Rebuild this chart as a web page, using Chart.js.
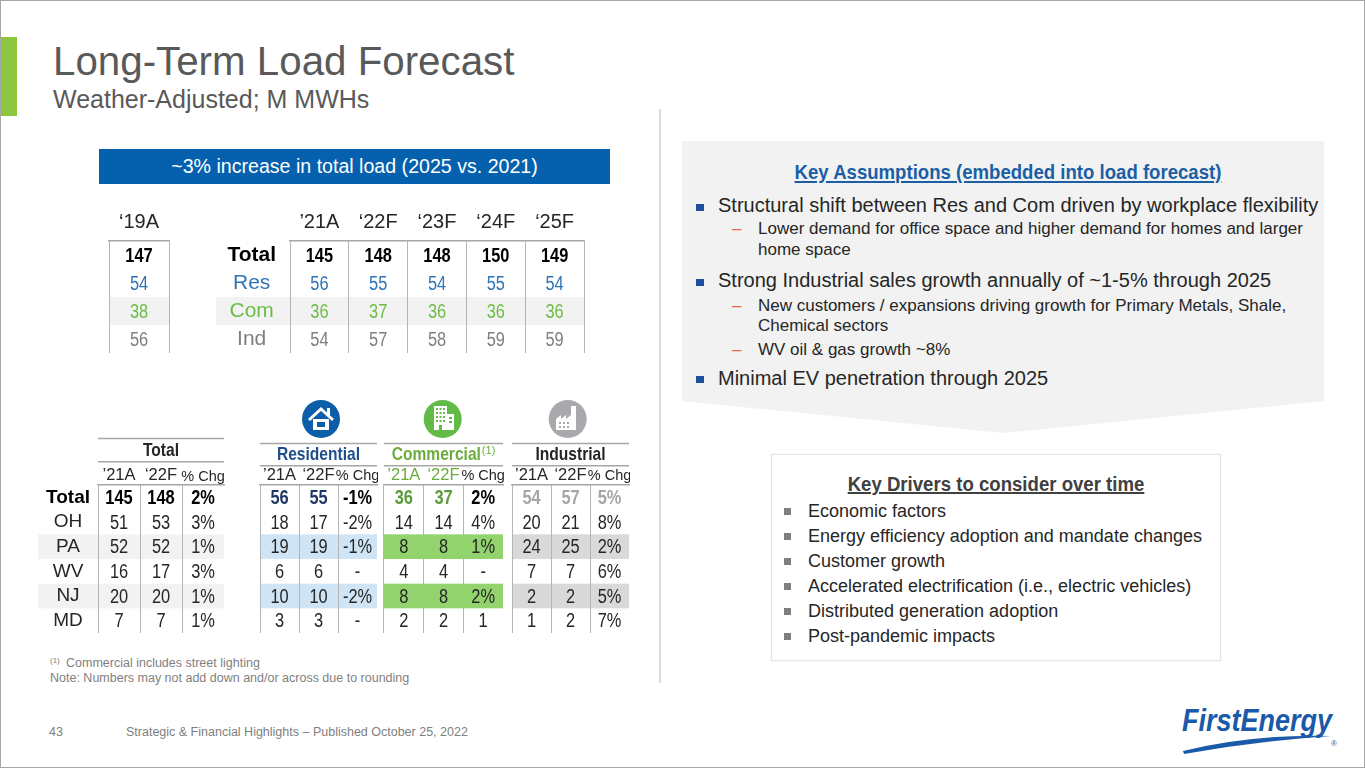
<!DOCTYPE html>
<html lang="en">
<head>
<meta charset="UTF-8">
<title>Long-Term Load Forecast</title>
<script src="https://cdn.jsdelivr.net/npm/chart.js@4.4.1/dist/chart.umd.min.js"></script>
<style>
  body { margin: 0; background: #fff; font-family: "Liberation Sans", Arial, sans-serif; }
  #slide { position: relative; width: 1365px; height: 768px; box-sizing: border-box; border: 1px solid #a6a6a6; overflow: hidden; background: #fff; }
  .abs { position: absolute; white-space: nowrap; line-height: 1; }
  .narrow { font-family: "Liberation Sans Narrow", "Arial Narrow", "Liberation Sans", sans-serif; }
  .box { position: absolute; }
  .sq { position: absolute; width: 8px; height: 7px; }
  .dash { color: #e46c4a; }
</style>
</head>
<body>
<div id="slide">
  <svg class="box" style="left:0;top:0" width="1365" height="768">
    <polygon points="681,140 1323,140 1323,400 1002,432 681,400" fill="#f2f2f2"/>
    <!-- category icons -->
    <circle cx="320" cy="418" r="19" fill="#0d5ea8"/>
    <polyline points="308,419 320,408 332,419" fill="none" stroke="#fff" stroke-width="3" stroke-linejoin="miter"/>
    <rect x="326" y="407" width="3" height="7" fill="#fff"/>
    <rect x="312" y="418" width="16" height="11" fill="#fff"/>
    <rect x="316" y="421" width="8" height="5" fill="#0d5ea8"/>
    <circle cx="441.7" cy="418" r="19" fill="#62bb46"/>
    <rect x="433" y="405" width="13" height="24" fill="#fff"/>
    <rect x="446" y="413" width="7" height="16" fill="#fff"/>
    <g fill="#62bb46">
      <rect x="435" y="407" width="2" height="2"/><rect x="438.5" y="407" width="2" height="2"/><rect x="442" y="407" width="2" height="2"/>
      <rect x="435" y="411" width="2" height="2"/><rect x="438.5" y="411" width="2" height="2"/><rect x="442" y="411" width="2" height="2"/>
      <rect x="435" y="415" width="2" height="2"/><rect x="438.5" y="415" width="2" height="2"/><rect x="442" y="415" width="2" height="2"/>
      <rect x="435" y="419" width="2" height="2"/><rect x="438.5" y="419" width="2" height="2"/><rect x="442" y="419" width="2" height="2"/>
      <rect x="438" y="424" width="3" height="5"/>
      <rect x="448" y="416" width="3" height="2"/><rect x="448" y="420" width="3" height="2"/>
    </g>
    <circle cx="566.7" cy="418" r="19" fill="#a7a9ac"/>
    <polygon points="555,429 555,418 560,414 560,418 565,414 565,418 570,414 570,405 575,405 575,429" fill="#fff"/>
    <g fill="#a7a9ac">
      <rect x="558" y="421" width="2" height="2"/><rect x="562" y="421" width="2" height="2"/><rect x="566" y="421" width="2" height="2"/>
      <rect x="558" y="425" width="2" height="2"/><rect x="562" y="425" width="2" height="2"/><rect x="566" y="425" width="2" height="2"/>
    </g>
    <!-- logo -->
    <text x="1181" y="730" font-family="Liberation Sans, Arial, sans-serif" font-size="31" font-weight="bold" font-style="italic" fill="#1a5aa8" textLength="150" lengthAdjust="spacingAndGlyphs">FirstEnergy</text>
    <path d="M1182,750 Q1250,733 1330,735 Q1255,740 1183,753 Z" fill="#1a5aa8"/>
    <text x="1330" y="745" font-family="Liberation Sans, Arial, sans-serif" font-size="8" fill="#1a5aa8">®</text>
  </svg>

  <div class="box" style="left:0;top:36px;width:16px;height:79px;background:#8dc63f"></div>
  <div class="abs" style="left:52px;top:41px;font-size:40.3px;color:#595959">Long-Term Load Forecast</div>
  <div class="abs" style="left:52px;top:86px;font-size:25px;color:#595959">Weather-Adjusted; M MWHs</div>
  <div class="box" style="left:658px;top:108px;width:2px;height:574px;background:#d9d9d9"></div>

  <div class="box" style="left:98px;top:148px;width:511px;height:35px;background:#0561ad;color:#fff;font-size:19.6px;line-height:35px;text-align:center">~3% increase in total load (2025 vs. 2021)</div>

  <!-- tables drawn by Chart.js -->
  <div class="box" style="left:107px;top:195px;width:62px;height:158px"><canvas id="t19"></canvas></div>
  <div class="box" style="left:215px;top:195px;width:369px;height:158px"><canvas id="tMain"></canvas></div>
  <div class="box" style="left:37px;top:436px;width:188px;height:197px"><canvas id="bTotal"></canvas></div>
  <div class="box" style="left:258px;top:441px;width:119px;height:192px"><canvas id="bRes"></canvas></div>
  <div class="box" style="left:382px;top:441px;width:121px;height:192px"><canvas id="bCom"></canvas></div>
  <div class="box" style="left:510px;top:441px;width:119px;height:192px"><canvas id="bInd"></canvas></div>

  <!-- key assumptions -->
  <div class="abs narrow fitN" data-sx="0.885" style="left:686px;top:160px;width:642px;text-align:center;font-size:21px;font-weight:bold;color:#1a5fa6;text-decoration:underline">Key Assumptions (embedded into load forecast)</div>
  <div class="sq" style="left:695px;top:203px;background:#1f4e9c"></div>
  <div class="abs" style="left:717px;top:194px;font-size:20px;color:#262626">Structural shift between Res and Com driven by workplace flexibility</div>
  <div class="abs dash" style="left:731px;top:219px;font-size:17px">–</div>
  <div class="abs" style="left:757px;top:219px;font-size:17px;color:#262626">Lower demand for office space and higher demand for homes and larger</div>
  <div class="abs" style="left:757px;top:239.5px;font-size:17px;color:#262626">home space</div>
  <div class="sq" style="left:695px;top:278px;background:#1f4e9c"></div>
  <div class="abs" style="left:717px;top:269px;font-size:20px;color:#262626">Strong Industrial sales growth annually of ~1-5% through 2025</div>
  <div class="abs dash" style="left:731px;top:295.5px;font-size:17px">–</div>
  <div class="abs" style="left:757px;top:295.5px;font-size:17px;color:#262626">New customers / expansions driving growth for Primary Metals, Shale,</div>
  <div class="abs" style="left:757px;top:315.5px;font-size:17px;color:#262626">Chemical sectors</div>
  <div class="abs dash" style="left:731px;top:339.5px;font-size:17px">–</div>
  <div class="abs" style="left:757px;top:339.5px;font-size:17px;color:#262626">WV oil &amp; gas growth ~8%</div>
  <div class="sq" style="left:695px;top:375px;background:#1f4e9c"></div>
  <div class="abs" style="left:717px;top:366.5px;font-size:20px;color:#262626">Minimal EV penetration through 2025</div>

  <!-- key drivers -->
  <div class="box" style="left:770px;top:453px;width:450px;height:207px;border:1px solid #e6e6e6;box-sizing:border-box;box-shadow:0 0 2px rgba(0,0,0,0.08)"></div>
  <div class="abs narrow fitN" data-sx="0.93" style="left:770px;top:473px;width:450px;text-align:center;font-size:20px;font-weight:bold;color:#404040;text-decoration:underline">Key Drivers to consider over time</div>
  <div id="drivers"></div>

  <!-- footnotes -->
  <div class="abs" style="left:49px;top:656px;font-size:8px;color:#7f7f7f">(1)</div>
  <div class="abs" style="left:65px;top:656px;font-size:12.5px;color:#7f7f7f">Commercial includes street lighting</div>
  <div class="abs" style="left:49px;top:670.5px;font-size:12.5px;color:#7f7f7f">Note: Numbers may not add down and/or across due to rounding</div>
  <div class="abs" style="left:48px;top:724.5px;font-size:12.5px;color:#7f7f7f">43</div>
  <div class="abs" style="left:125px;top:724.5px;font-size:12.5px;color:#7f7f7f">Strategic &amp; Financial Highlights – Published October 25, 2022</div>
</div>

<script>
  // Top table: 2019 actual and 2021-2025
  const histYear = ['‘19A'];
  const years = ['’21A', '‘22F', '‘23F', '‘24F', '‘25F'];
  const segments = ['Total', 'Res', 'Com', 'Ind'];
  const load19 = [147, 54, 38, 56];
  const totalLoad = [145, 148, 148, 150, 149];
  const resLoad = [56, 55, 54, 55, 54];
  const comLoad = [36, 37, 36, 36, 36];
  const indLoad = [54, 57, 58, 59, 59];

  // Bottom tables: by state, '21A vs '22F
  const states = ['Total', 'OH', 'PA', 'WV', 'NJ', 'MD'];
  const subCols = ['’21A', '‘22F', '% Chg'];
  const total21 = [145, 51, 52, 16, 20, 7];
  const total22 = [148, 53, 52, 17, 20, 7];
  const totalChg = ['2%', '3%', '1%', '3%', '1%', '1%'];
  const res21 = [56, 18, 19, 6, 10, 3];
  const res22 = [55, 17, 19, 6, 10, 3];
  const resChg = ['-1%', '-2%', '-1%', '-', '-2%', '-'];
  const com21 = [36, 14, 8, 4, 8, 2];
  const com22 = [37, 14, 8, 4, 8, 2];
  const comChg = ['2%', '4%', '1%', '-', '2%', '1'];
  const ind21 = [54, 20, 24, 7, 2, 1];
  const ind22 = [57, 21, 25, 7, 2, 2];
  const indChg = ['5%', '8%', '2%', '6%', '5%', '7%'];

  const drivers = ['Economic factors', 'Energy efficiency adoption and mandate changes', 'Customer growth',
    'Accelerated electrification (i.e., electric vehicles)', 'Distributed generation adoption', 'Post-pandemic impacts'];

  // is the narrow face installed? if not, squeeze the regular one
  function fontAvailable(name) {
    const c = document.createElement('canvas').getContext('2d');
    const s = 'WwMmIil1234567890';
    c.font = '40px monospace';
    const a = c.measureText(s).width;
    c.font = `40px "${name}", monospace`;
    return c.measureText(s).width !== a;
  }
  const HAS_NARROW = fontAvailable('Liberation Sans Narrow');
  const SANS = '"Liberation Sans", Arial, sans-serif';
  const NARROW = HAS_NARROW ? '"Liberation Sans Narrow", "Liberation Sans", sans-serif' : SANS;
  const SQUEEZE = HAS_NARROW ? 1 : 0.82;
  if (!HAS_NARROW) {
    document.querySelectorAll('.fitN').forEach(el => { el.style.transform = `scaleX(${el.dataset.sx})`; });
  }

  const driverBox = document.getElementById('drivers');
  drivers.forEach((d, i) => {
    const base = 516 + i * 25;
    driverBox.insertAdjacentHTML('beforeend',
      `<div class="sq" style="left:783px;top:${base - 9}px;width:7px;background:#7f7f7f"></div>` +
      `<div class="abs" style="left:807px;top:${base - 15.2}px;font-size:18px;color:#262626">${d}</div>`);
  });

  Chart.defaults.font.family = SANS;
  Chart.defaults.animation = false;
  Chart.defaults.events = [];
  Chart.defaults.plugins.legend.display = false;
  Chart.defaults.plugins.tooltip.enabled = false;

  // cell values sit on the points the scales place
  function makeCells(cell) {
    return {
      id: 'cells',
      afterDatasetsDraw(chart) {
        const ctx = chart.ctx;
        ctx.save();
        ctx.textAlign = 'center';
        ctx.textBaseline = 'middle';
        chart.data.datasets.forEach((ds, j) => {
          chart.getDatasetMeta(j).data.forEach((pt, i) => {
            const st = cell.style(i, j);
            ctx.font = `${st.bold ? 'bold ' : ''}${cell.size}px ${NARROW}`;
            ctx.fillStyle = st.color;
            ctx.save();
            ctx.translate(pt.x, pt.y + 1);
            ctx.scale(SQUEEZE, 1);
            ctx.fillText(ds.data[i].v, 0, 0);
            ctx.restore();
          });
        });
        ctx.restore();
      }
    };
  }

  function makeShade(shade) {
    return {
      id: 'shade',
      beforeDraw(chart) {
        if (!shade) return;
        const y = chart.scales.y, area = chart.chartArea, ctx = chart.ctx;
        const h = (area.bottom - area.top) / y.ticks.length;
        const left = shade.fromAxis ? y.left : area.left;
        ctx.save();
        ctx.fillStyle = shade.color;
        shade.rows.forEach(r => {
          const cy = y.getPixelForValue(r);
          ctx.fillRect(left, cy - h / 2, area.right - left, h);
        });
        ctx.restore();
      }
    };
  }

  // group title (narrow bold) between two rules, plus an optional footnote mark
  function makeRules(title) {
    return {
      id: 'rules',
      afterDraw(chart) {
        if (!title) return;
        const t = chart.titleBlock, area = chart.chartArea, ctx = chart.ctx;
        ctx.save();
        ctx.strokeStyle = '#a6a6a6';
        ctx.lineWidth = 1.5;
        [t.top + 0.5, t.bottom].forEach(yy => {
          ctx.beginPath();
          ctx.moveTo(area.left, yy);
          ctx.lineTo(area.right, yy);
          ctx.stroke();
        });
        ctx.font = `bold ${title.size}px ${NARROW}`;
        const core = ctx.measureText(title.text).width * SQUEEZE;
        let supW = 0;
        if (title.sup) {
          ctx.font = `11px ${SANS}`;
          supW = ctx.measureText(title.sup).width + 1;
        }
        const cx = (area.left + area.right) / 2;
        const cy = t.top + title.padding.top + title.size * 0.6 + 0.5;
        const x0 = cx - (core + supW) / 2;
        ctx.fillStyle = title.color;
        ctx.textAlign = 'left';
        ctx.textBaseline = 'middle';
        ctx.save();
        ctx.translate(x0, cy);
        ctx.scale(SQUEEZE, 1);
        ctx.font = `bold ${title.size}px ${NARROW}`;
        ctx.fillText(title.text, 0, 0);
        ctx.restore();
        if (title.sup) {
          ctx.font = `11px ${SANS}`;
          ctx.textBaseline = 'top';
          ctx.fillText(title.sup, x0 + core + 1, t.top + 2);
        }
        ctx.restore();
      }
    };
  }

  // no label overflow padding: rows and columns fill the plot area exactly
  function fixSize(s, prop, val) {
    if (val !== undefined) s[prop] = val;
    s.paddingTop = 0; s.paddingBottom = 0; s.paddingLeft = 0; s.paddingRight = 0;
  }

  function buildTable(id, o) {
    const datasets = o.cols.map((c, j) => ({
      data: o.rows.map((r, i) => ({ x: c, y: r, v: o.values[j][i] })),
      pointRadius: 0
    }));
    return new Chart(document.getElementById(id), {
      type: 'scatter',
      data: { datasets },
      options: {
        responsive: true,
        maintainAspectRatio: false,
        layout: { padding: o.pad },
        scales: {
          x: {
            type: 'category', labels: o.cols, position: 'top', offset: true,
            grid: {
              offset: true, drawTicks: false, lineWidth: 1,
              color: c => (o.openRight && c.type !== 'tick') ? 'rgba(0,0,0,0)' : '#b4b4b4'
            },
            border: { display: true, color: '#a6a6a6', width: 1.5 },
            ticks: {
              padding: o.headPad, autoSkip: false, maxRotation: 0,
              color: c => o.headColor(c.index), font: c => o.headFont(c.index)
            },
            afterFit: s => fixSize(s, 'height', o.headH)
          },
          y: {
            type: 'category', labels: o.rows, offset: true, display: !!o.rowLabel,
            grid: { display: false }, border: { display: false },
            ticks: o.rowLabel ? {
              padding: o.rowLabel.pad, crossAlign: o.rowLabel.align, autoSkip: false,
              color: c => o.rowLabel.color(c.index), font: c => o.rowLabel.font(c.index)
            } : {},
            afterFit: s => fixSize(s, 'width', o.rowLabel ? o.rowLabel.width : undefined)
          }
        },
        plugins: {
          title: o.title ? {
            display: true, text: o.title.text, color: 'rgba(0,0,0,0)', fullSize: false,
            font: { family: NARROW, size: o.title.size, weight: 'bold' }, padding: o.title.padding
          } : { display: false }
        }
      },
      plugins: [makeShade(o.shade), makeCells(o.cell), makeRules(o.title)]
    });
  }

  const segColor = ['#000000', '#2e75b6', '#6cbd45', '#7f7f7f'];
  const dark = '#262626';

  buildTable('t19', {
    cols: histYear, rows: segments, values: [load19],
    pad: { left: 1, right: 1, top: 0, bottom: 1 },
    headH: 45, headPad: 7,
    headColor: () => dark, headFont: () => ({ size: 20 }),
    shade: { rows: [2], color: '#f2f2f2' },
    cell: { size: 20, style: i => ({ color: segColor[i], bold: i === 0 }) }
  });

  buildTable('tMain', {
    cols: years, rows: segments, values: [0, 1, 2, 3, 4].map(k => [totalLoad[k], resLoad[k], comLoad[k], indLoad[k]]),
    pad: { right: 1, bottom: 1 },
    headH: 45, headPad: 7,
    headColor: () => dark, headFont: () => ({ size: 20 }),
    rowLabel: { width: 74, pad: 6, align: 'center', color: i => segColor[i],
      font: i => ({ size: 21, weight: i === 0 ? 'bold' : 'normal' }) },
    shade: { rows: [2], color: '#f2f2f2', fromAxis: true },
    cell: { size: 20, style: i => ({ color: segColor[i], bold: i === 0 }) }
  });

  const subFont = k => ({ size: k === 2 ? 14.5 : 16.5 });

  buildTable('bTotal', {
    cols: subCols, rows: states, values: [total21, total22, totalChg], openRight: true,
    pad: { top: 1, right: 2, bottom: 1 },
    headH: 23.4, headPad: 0,
    headColor: () => dark, headFont: subFont,
    title: { text: 'Total', color: dark, size: 19, padding: { top: 0.5, bottom: 0.5 } },
    rowLabel: { width: 60, pad: 0, align: 'center', color: i => i === 0 ? '#000' : dark,
      font: i => ({ size: 19, weight: i === 0 ? 'bold' : 'normal' }) },
    shade: { rows: [2, 4], color: '#f2f2f2', fromAxis: true },
    cell: { size: 20, style: i => ({ color: i === 0 ? '#000' : dark, bold: i === 0 }) }
  });

  buildTable('bRes', {
    cols: subCols, rows: states, values: [res21, res22, resChg], openRight: true,
    pad: { left: 1, top: 1, right: 1, bottom: 1 },
    headH: 19.2, headPad: 0,
    headColor: () => dark, headFont: subFont,
    title: { text: 'Residential', color: '#1f4e8c', size: 19, padding: { top: 0, bottom: 0 } },
    shade: { rows: [2, 4], color: '#cfe5f6' },
    cell: { size: 20, style: (i, j) => ({ color: i === 0 ? (j < 2 ? '#1f3864' : '#000') : dark, bold: i === 0 }) }
  });

  buildTable('bCom', {
    cols: subCols, rows: states, values: [com21, com22, comChg], openRight: true,
    pad: { left: 1, top: 1, right: 1, bottom: 1 },
    headH: 19.2, headPad: 0,
    headColor: k => k < 2 ? '#6aad3d' : dark, headFont: subFont,
    title: { text: 'Commercial', sup: '(1)', color: '#6aad3d', size: 19, padding: { top: 0, bottom: 0 } },
    shade: { rows: [2, 4], color: '#92d36e' },
    cell: { size: 20, style: (i, j) => ({ color: i === 0 ? (j < 2 ? '#5e9b3c' : '#000') : dark, bold: i === 0 }) }
  });

  buildTable('bInd', {
    cols: subCols, rows: states, values: [ind21, ind22, indChg], openRight: true,
    pad: { left: 1, top: 1, right: 1, bottom: 1 },
    headH: 19.2, headPad: 0,
    headColor: () => dark, headFont: subFont,
    title: { text: 'Industrial', color: dark, size: 19, padding: { top: 0, bottom: 0 } },
    shade: { rows: [2, 4], color: '#d9d9d9' },
    cell: { size: 20, style: i => ({ color: i === 0 ? '#a6a6a6' : dark, bold: i === 0 }) }
  });
</script>
</body>
</html>
